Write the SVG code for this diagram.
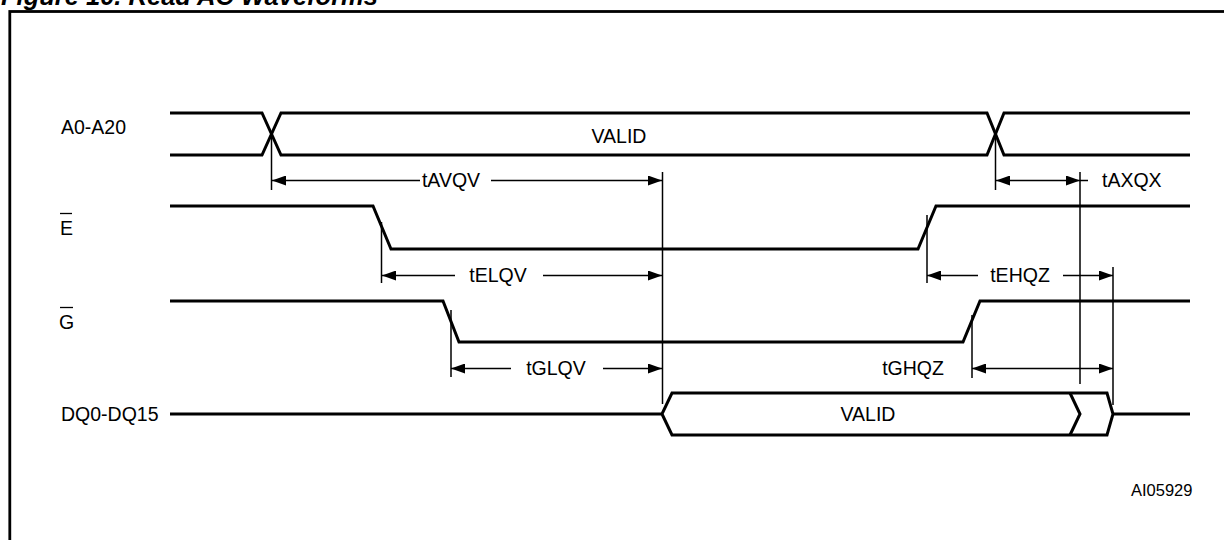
<svg xmlns="http://www.w3.org/2000/svg" width="1224" height="540" viewBox="0 0 1224 540">
<defs>
<style>
text{font-family:"Liberation Sans",Arial,sans-serif;font-size:19.5px;fill:#000}
.title{font-size:25.5px;font-weight:bold;font-style:italic}
.sig{fill:none;stroke:#000;stroke-width:3;stroke-linejoin:miter}
.dim{fill:none;stroke:#000;stroke-width:1.5}
.small{font-size:16.5px}
.mid{text-anchor:middle}
</style>
<marker id="ah" viewBox="0 0 14 10" refX="14" refY="5" markerWidth="14" markerHeight="10" markerUnits="userSpaceOnUse" orient="auto-start-reverse">
<path d="M0,0 L14,5 L0,10 Z" fill="#000"/>
</marker>
</defs>
<rect width="1224" height="540" fill="#fff"/>
<text class="title" x="1" y="5">Figure 10. Read AC Waveforms</text>
<rect x="9.8" y="11.5" width="1230" height="540" fill="none" stroke="#000" stroke-width="2.8"/>

<g id="label-a">
<text x="61" y="134">A0-A20</text>
</g>
<g id="label-e">
<text x="60" y="235">E</text>
<line x1="60" y1="213.5" x2="72" y2="213.5" stroke="#000" stroke-width="1.3"/>
</g>
<g id="label-g">
<text x="59" y="329">G</text>
<line x1="60" y1="307.5" x2="73" y2="307.5" stroke="#000" stroke-width="1.3"/>
</g>
<g id="label-dq">
<text x="61" y="421">DQ0-DQ15</text>
</g>

<g id="signal-a">
<path class="sig" d="M170,113 H262 L281,155 H987 L1004,113 H1190"/>
<path class="sig" d="M170,155 H262 L281,113 H987 L1004,155 H1190"/>
<text class="mid" x="619" y="143">VALID</text>
</g>
<g id="signal-e">
<path class="sig" d="M170,206 H373 L391,249 H918 L936,206 H1190"/>
</g>
<g id="signal-g">
<path class="sig" d="M170,301 H443 L459,342 H963 L980,301 H1190"/>
</g>
<g id="signal-dq">
<path class="sig" d="M170,414 H662 L672,393 H1107 L1113,414 L1107,435 H672 L662,414"/>
<path class="sig" d="M1070,393 L1080,414 L1070,435"/>
<path class="sig" d="M1113,414 H1190"/>
<text class="mid" x="868" y="421">VALID</text>
</g>

<g id="connectors">
<line class="dim" x1="271.5" y1="134" x2="271.5" y2="190"/>
<line class="dim" x1="995.5" y1="134" x2="995.5" y2="190"/>
<line class="dim" x1="662.5" y1="172" x2="662.5" y2="404"/>
<line class="dim" x1="1080" y1="172" x2="1080" y2="384"/>
<line class="dim" x1="381.5" y1="222" x2="381.5" y2="283"/>
<line class="dim" x1="927" y1="215" x2="927" y2="283"/>
<line class="dim" x1="1113" y1="267" x2="1113" y2="405"/>
<line class="dim" x1="451" y1="310" x2="451" y2="377"/>
<line class="dim" x1="972" y1="315" x2="972" y2="378"/>

<line class="dim" x1="420" y1="180.5" x2="272" y2="180.5" marker-end="url(#ah)"/>
<line class="dim" x1="491" y1="180.5" x2="662" y2="180.5" marker-end="url(#ah)"/>
<text class="mid" x="451" y="187">tAVQV</text>

<line class="dim" x1="996" y1="180.5" x2="1080" y2="180.5" marker-start="url(#ah)" marker-end="url(#ah)"/>
<line class="dim" x1="1080" y1="180.5" x2="1088" y2="180.5"/>
<text x="1102" y="187">tAXQX</text>

<line class="dim" x1="455" y1="275.5" x2="382" y2="275.5" marker-end="url(#ah)"/>
<line class="dim" x1="543" y1="275.5" x2="662" y2="275.5" marker-end="url(#ah)"/>
<text class="mid" x="498" y="282">tELQV</text>

<line class="dim" x1="978" y1="275.5" x2="927" y2="275.5" marker-end="url(#ah)"/>
<line class="dim" x1="1063" y1="275.5" x2="1113" y2="275.5" marker-end="url(#ah)"/>
<text class="mid" x="1020" y="282">tEHQZ</text>

<line class="dim" x1="511" y1="368.5" x2="451" y2="368.5" marker-end="url(#ah)"/>
<line class="dim" x1="603" y1="368.5" x2="662" y2="368.5" marker-end="url(#ah)"/>
<text class="mid" x="556" y="375">tGLQV</text>

<line class="dim" x1="972" y1="368.5" x2="1113" y2="368.5" marker-start="url(#ah)" marker-end="url(#ah)"/>
<text class="mid" x="913" y="375">tGHQZ</text>
</g>

<text class="small" x="1131" y="496">AI05929</text>
</svg>
